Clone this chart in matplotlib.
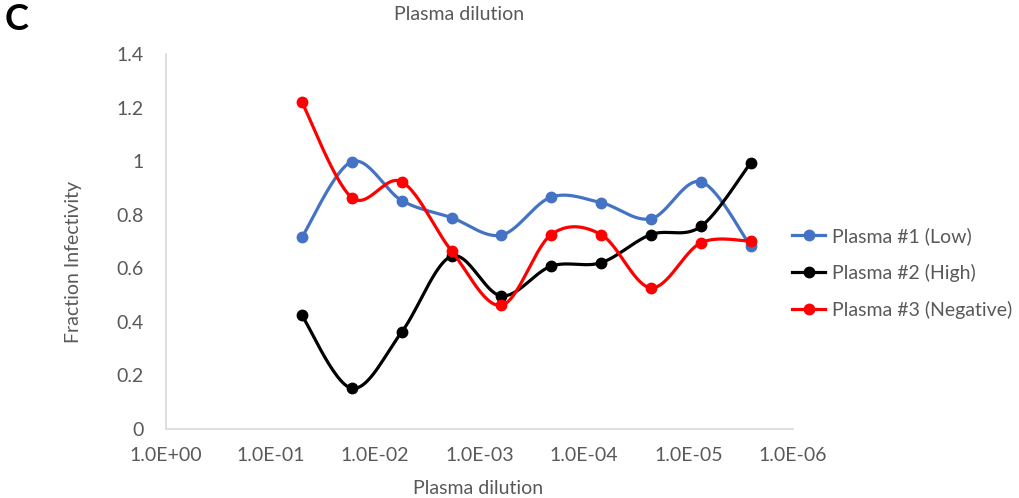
import numpy as np
import matplotlib
matplotlib.use("Agg")
import matplotlib.pyplot as plt

plt.rcParams['font.family'] = ['Lato', 'DejaVu Sans']

# dilution series: 1/20 then 3-fold steps
dilutions = [1 / 20, 1 / 60, 1 / 180, 1 / 540, 1 / 1620, 1 / 4860,
             1 / 14580, 1 / 43740, 1 / 131220, 1 / 393660]
plasma_low = [0.716, 0.998, 0.853, 0.789, 0.724, 0.866, 0.845, 0.785, 0.923, 0.682]
plasma_high = [0.424, 0.152, 0.362, 0.645, 0.497, 0.608, 0.621, 0.726, 0.756, 0.994]
plasma_neg = [1.220, 0.864, 0.923, 0.665, 0.462, 0.726, 0.726, 0.527, 0.695, 0.701]
labels = ["Plasma #1 (Low)", "Plasma #2 (High)", "Plasma #3 (Negative)"]
colors = ["#4472C4", "#000000", "#FF0000"]
xticks = [10.0 ** -k for k in range(7)]
xticklabels = ["1.0E+00", "1.0E-01", "1.0E-02", "1.0E-03", "1.0E-04", "1.0E-05", "1.0E-06"]
yticks = [0, 0.2, 0.4, 0.6, 0.8, 1.0, 1.2, 1.4]
yticklabels = ["0", "0.2", "0.4", "0.6", "0.8", "1", "1.2", "1.4"]

GRAY = "#595959"
W, H = 627.0, 375.0  # plot area in pixels, used for screen-space smoothing


def smooth(xs, ys, n=30):
    """Excel-like smoothed line: Catmull-Rom bezier in screen space."""
    u = -np.log10(xs) / 6 * W
    v = np.asarray(ys) / 1.4 * H
    pts = np.column_stack([u, v])
    ext = np.vstack([pts[0], pts, pts[-1]])
    out = []
    t = np.linspace(0, 1, n)[:, None]
    for i in range(len(pts) - 1):
        p0, p1, p2, p3 = ext[i], ext[i + 1], ext[i + 2], ext[i + 3]
        c1 = p1 + (p2 - p0) / 6
        c2 = p2 - (p3 - p1) / 6
        seg = ((1 - t) ** 3) * p1 + 3 * ((1 - t) ** 2) * t * c1 + 3 * (1 - t) * t ** 2 * c2 + t ** 3 * p2
        out.append(seg)
    out = np.vstack(out)
    return 10 ** (-out[:, 0] / W * 6), out[:, 1] / H * 1.4


fig = plt.figure(figsize=(10.19, 4.98), dpi=100)
ax = fig.add_axes([166 / 1019, 1 - 429 / 498, 627 / 1019, 375 / 498])

for ys, lab, col in zip([plasma_low, plasma_high, plasma_neg], labels, colors):
    sx, sy = smooth(dilutions, ys)
    ax.plot(sx, sy, color=col, lw=2.3, solid_capstyle='round')
    ax.plot(dilutions, ys, 'o', color=col, ms=7.5)
    ax.plot([], [], '-o', color=col, lw=2.3, ms=7.5, label=lab)

ax.set_xscale('log')
ax.set_xlim(1, 1e-6)
ax.set_ylim(0, 1.4)
ax.set_xticks(xticks)
ax.set_xticklabels(xticklabels)
ax.xaxis.set_minor_locator(matplotlib.ticker.NullLocator())
ax.set_yticks(yticks)
ax.set_yticklabels(yticklabels)
ax.tick_params(axis='both', length=0, labelsize=14, labelcolor=GRAY)
ax.tick_params(axis='x', pad=13)
ax.tick_params(axis='y', pad=16)
for s in ['top', 'right']:
    ax.spines[s].set_visible(False)
for s in ['left', 'bottom']:
    ax.spines[s].set_color("#D9D9D9")
    ax.spines[s].set_linewidth(1.2)

fig.text(478 / 1019, 1 - 488 / 498, "Plasma dilution", ha='center', va='center', fontsize=14, color=GRAY)
fig.text(73 / 1019, 1 - 262 / 498, "Fraction Infectivity", ha='center', va='center',
         rotation=90, fontsize=14, color=GRAY)
fig.text(459 / 1019, 1 - 14 / 498, "Plasma dilution", ha='center', va='center', fontsize=14, color=GRAY)
fig.text(5 / 1019, 1 - 19 / 498, "C", ha='left', va='center', fontsize=26, fontweight='bold', color='black')

leg = ax.legend(loc='center left', bbox_to_anchor=(792 / 1019, 1 - 273 / 498),
                bbox_transform=fig.transFigure, frameon=False, fontsize=14,
                handlelength=1.7, handletextpad=0.35, labelspacing=0.98,
                borderpad=0, borderaxespad=0)
for t in leg.get_texts():
    t.set_color(GRAY)

fig.savefig("out.png", dpi=100)
